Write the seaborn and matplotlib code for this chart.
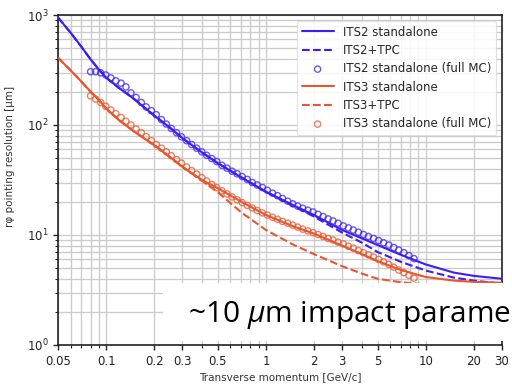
import numpy as np
import pandas as pd
import matplotlib
matplotlib.use("Agg")
import matplotlib.pyplot as plt
import seaborn as sns
from matplotlib.patches import Rectangle
from matplotlib.ticker import LogLocator, NullFormatter

# ---------------- data ----------------
pt_line = [0.05, 0.06, 0.07, 0.08, 0.09, 0.1, 0.12, 0.15, 0.2, 0.25, 0.3, 0.4, 0.5,
           0.7, 1.0, 1.5, 2.0, 3.0, 4.0, 5.0, 7.0, 10.0, 15.0, 20.0, 30.0]
its2_sa = [950, 690, 515, 395, 320, 270, 218, 172, 122, 95, 76, 56, 45,
           33.5, 24.8, 18.5, 15.2, 11.1, 9.3, 8.1, 6.6, 5.4, 4.55, 4.25, 4.0]
its2_tpc = [950, 690, 515, 395, 320, 270, 218, 172, 122, 95, 76, 56, 45,
            33.5, 24.7, 18.2, 14.7, 10.5, 8.5, 7.0, 5.7, 4.75, 4.1, 3.85, 3.6]
its3_sa = [409, 314, 248, 201, 169, 142, 111, 87, 65.8, 51.5, 41.8, 31.5, 26.6,
           20.1, 15.2, 11.9, 10.3, 8.0, 6.7, 5.8, 4.8, 4.15, 3.85, 3.75, 3.68]
its3_tpc = [409, 314, 248, 201, 169, 142, 111, 87, 65.8, 51.5, 41.8, 31.0, 24.5,
            16.1, 11.1, 8.1, 6.7, 5.2, 4.45, 4.0, 3.72, 3.55, 3.4, 3.35, 3.3]

pt_mc = [0.080, 0.086, 0.0925, 0.0995, 0.107, 0.115, 0.124, 0.133, 0.143, 0.154,
         0.166, 0.178, 0.192, 0.206, 0.222, 0.238, 0.256, 0.276, 0.296, 0.319,
         0.343, 0.369, 0.397, 0.426, 0.459, 0.493, 0.531, 0.571, 0.614, 0.660,
         0.710, 0.764, 0.821, 0.883, 0.950, 1.02, 1.10, 1.18, 1.27, 1.37,
         1.47, 1.58, 1.70, 1.83, 1.97, 2.12, 2.28, 2.45, 2.63, 2.83,
         3.05, 3.28, 3.52, 3.79, 4.08, 4.38, 4.71, 5.07, 5.45, 5.87,
         6.31, 6.78, 7.30, 7.85, 8.44]
its2_mc = [305, 305, 298, 285, 268, 252, 240, 222, 196, 178,
           160, 146, 135, 124, 112, 102, 93, 85, 78, 72,
           66.5, 61.5, 57, 53, 49.5, 46.5, 43, 40.5, 38, 36,
           34, 32, 30, 28.5, 27, 25.5, 24, 22.8, 21.5, 20.3,
           19.2, 18.3, 17.5, 16.8, 16.2, 15.4, 14.7, 14.0, 13.4, 12.8,
           12.1, 11.6, 11.1, 10.6, 10.1, 9.7, 9.3, 8.9, 8.5, 8.1,
           7.7, 7.3, 6.9, 6.5, 6.1]
its3_mc = [184, 172, 160, 148, 137, 127, 117, 108, 100, 92,
           85, 78.5, 72, 66.5, 61.5, 57, 52.5, 48.5, 45, 41.5,
           38.5, 35.8, 33.2, 31, 28.8, 26.9, 25.2, 23.6, 22.2, 20.9,
           19.7, 18.6, 17.6, 16.7, 15.9, 15.2, 14.5, 13.9, 13.3, 12.8,
           12.3, 11.8, 11.3, 10.9, 10.5, 10.1, 9.7, 9.3, 9.0, 8.6,
           8.3, 7.9, 7.6, 7.2, 6.9, 6.6, 6.3, 6.0, 5.7, 5.4,
           5.1, 4.8, 4.55, 4.3, 4.05]

x_ticks = [0.05, 0.1, 0.2, 0.3, 0.5, 1, 2, 3, 5, 10, 20, 30]
x_tick_labels = ["0.05", "0.1", "0.2", "0.3", "0.5", "1", "2", "3", "5", "10", "20", "30"]

BLUE = "#3d1ef2"
RED = "#e8562e"

# ---------------- figure ----------------
sns.set_style("ticks")
plt.rcParams['font.family'] = ['DejaVu Sans']
plt.rcParams['mathtext.fontset'] = 'custom'
plt.rcParams['mathtext.it'] = 'Open Sans:italic'
plt.rcParams['mathtext.rm'] = 'Open Sans'

fig = plt.figure(figsize=(5.12, 3.84), dpi=100)
ax = fig.add_axes([58 / 512, 1 - 345 / 384, 444 / 512, 330 / 384])
ax.set_xscale('log')
ax.set_yscale('log')

sns.lineplot(x=pt_line, y=its2_sa, ax=ax, color=BLUE, lw=1.5, label="ITS2 standalone",
             estimator=None, zorder=3)
sns.lineplot(x=pt_line, y=its2_tpc, ax=ax, color=BLUE, lw=1.5, ls="--", label="ITS2+TPC",
             estimator=None, zorder=3)
sns.scatterplot(x=pt_mc, y=its2_mc, ax=ax, marker='o', s=20, color=BLUE,
                facecolor='none', edgecolor=BLUE, linewidth=1.0, alpha=0.75,
                label="ITS2 standalone (full MC)", zorder=4)
sns.lineplot(x=pt_line, y=its3_sa, ax=ax, color=RED, lw=1.5, label="ITS3 standalone",
             estimator=None, zorder=3)
sns.lineplot(x=pt_line, y=its3_tpc, ax=ax, color=RED, lw=1.5, ls="--", label="ITS3+TPC",
             estimator=None, zorder=3)
sns.scatterplot(x=pt_mc, y=its3_mc, ax=ax, marker='o', s=20, color=RED,
                facecolor='none', edgecolor=RED, linewidth=1.0, alpha=0.75,
                label="ITS3 standalone (full MC)", zorder=4)

ax.set_xlim(0.05, 30)
ax.set_ylim(1, 1000)
ax.set_xticks(x_ticks, x_tick_labels)
ax.xaxis.set_minor_locator(LogLocator(base=10, subs=np.arange(2, 10)))
ax.xaxis.set_minor_formatter(NullFormatter())
ax.yaxis.set_major_locator(LogLocator(base=10, numticks=10))
ax.yaxis.set_minor_locator(LogLocator(base=10, subs=np.arange(2, 10), numticks=20))
ax.yaxis.set_minor_formatter(NullFormatter())

ax.grid(True, which='both', color='#cccccc', linewidth=1.0, zorder=0)
ax.set_axisbelow(True)
for s in ax.spines.values():
    s.set_visible(True)
    s.set_color('#222222')
    s.set_linewidth(1.2)
ax.tick_params(which='major', labelsize=8.5, length=3.5, width=1, colors='#222222')
ax.tick_params(which='minor', length=2, width=0.8, colors='#222222')

ax.set_xlabel("Transverse momentum [GeV/c]", fontsize=7.5, color='#333333', labelpad=3)
ax.set_ylabel("rφ pointing resolution [μm]", fontsize=7.5, color='#333333')
ax.yaxis.set_label_coords(-0.097, 0.57)

leg = ax.legend(loc='upper right', fontsize=8.5, handlelength=2.7, frameon=True,
                framealpha=0.85, edgecolor='#dddddd', borderaxespad=0.5,
                labelspacing=0.45)
leg.get_frame().set_linewidth(0.8)

# white overlay box with the slide annotation (cut by the slide edge)
fig.patches.append(Rectangle((163 / 512, 1 - 341 / 384), 1.0, 58 / 384,
                             transform=fig.transFigure, facecolor='white',
                             edgecolor='none', zorder=5))
fig.text(188 / 512, 1 - 322 / 384, "~10 $\\mu$m impact parame", fontsize=21.5,
         family='Open Sans', color='black', zorder=6, va='baseline')

fig.savefig("out.png", dpi=100)
